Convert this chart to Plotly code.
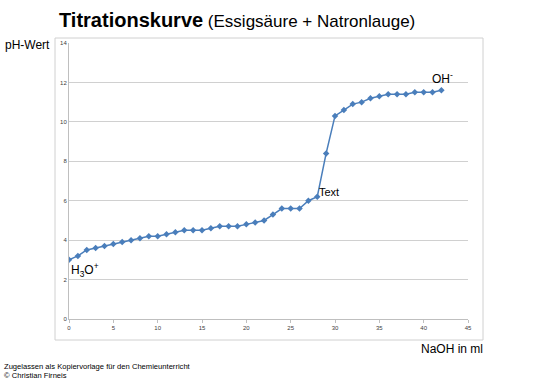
import plotly.graph_objects as go

naoh_ml = list(range(0, 43))
ph_values = [3.0, 3.2, 3.5, 3.6, 3.7, 3.8, 3.9, 4.0, 4.1, 4.2, 4.2, 4.3, 4.4, 4.5, 4.5,
             4.5, 4.6, 4.7, 4.7, 4.7, 4.8, 4.9, 5.0, 5.3, 5.6, 5.6, 5.6, 6.0, 6.2, 8.4,
             10.3, 10.6, 10.9, 11.0, 11.2, 11.3, 11.4, 11.4, 11.4, 11.5, 11.5, 11.5, 11.6]
x_ticks = [0, 5, 10, 15, 20, 25, 30, 35, 40, 45]
y_ticks = [0, 2, 4, 6, 8, 10, 12, 14]

FONT = "Liberation Sans, Arial, sans-serif"
W, H = 540, 381
# plot area in window pixels: x 69..468, y 43..319
L, T = 69, 43
R, B = W - 468, H - 319
pw, ph = W - L - R, H - T - B

def px(xp):
    return (xp - L) / pw

def py(yp):
    return (H - B - yp) / ph

fig = go.Figure()
fig.add_trace(go.Scatter(
    x=naoh_ml, y=ph_values, mode="lines+markers",
    line=dict(color="#4a7ebb", width=1.5),
    marker=dict(symbol="diamond", size=5, color="#4a7ebb"),
    showlegend=False, hoverinfo="skip"))

fig.update_layout(
    width=W, height=H,
    margin=dict(l=L, r=R, t=T, b=B),
    paper_bgcolor="white", plot_bgcolor="white",
    font=dict(family=FONT, color="black"),
    xaxis=dict(range=[0, 45], tickvals=x_ticks, showgrid=False, zeroline=False,
               showline=True, linecolor="#bfbfbf", linewidth=1,
               ticks="outside", ticklen=3, tickcolor="#bfbfbf",
               tickfont=dict(size=6, color="#404040")),
    yaxis=dict(range=[0, 14], tickvals=y_ticks, showgrid=True, gridcolor="#d0d0d0",
               gridwidth=1, zeroline=False, showline=True, linecolor="#bfbfbf",
               linewidth=1, ticks="", tickfont=dict(size=6, color="#404040")),
)

# outer chart frame
fig.add_shape(type="rect", xref="paper", yref="paper",
              x0=px(55), x1=px(483), y0=py(340), y1=py(38),
              line=dict(color="#d0d0d0", width=1), fillcolor="rgba(0,0,0,0)", layer="below")

anns = [
    dict(x=px(57), y=py(20), text="<b>Titrationskurve</b><span style='font-size:17px'> (Essigsäure + Natronlauge)</span>",
         font=dict(size=20), xanchor="left"),
    dict(x=px(52), y=py(45), text="pH-Wert", font=dict(size=12), xanchor="right"),
    dict(x=px(485), y=py(349), text="NaOH in ml", font=dict(size=12), xanchor="right"),
    dict(x=px(2), y=py(366), text="Zugelassen als Kopiervorlage für den Chemieunterricht",
         font=dict(size=7.6), xanchor="left"),
    dict(x=px(2), y=py(375), text="© Christian Firneis", font=dict(size=7.6), xanchor="left"),
    dict(x=px(430), y=py(78), text="OH<sup>-</sup>", font=dict(size=12), xanchor="left"),
    dict(x=px(317), y=py(192), text="Text", font=dict(size=11), xanchor="left"),
    dict(x=px(69), y=py(270), text="H<sub>3</sub>O<sup>+</sup>", font=dict(size=12), xanchor="left"),
]
for a in anns:
    fig.add_annotation(xref="paper", yref="paper", showarrow=False, yanchor="middle", **a)

fig.write_html("out.html", config={"displayModeBar": False},
               post_script="document.body.style.margin='0';document.body.style.overflow='hidden';")
